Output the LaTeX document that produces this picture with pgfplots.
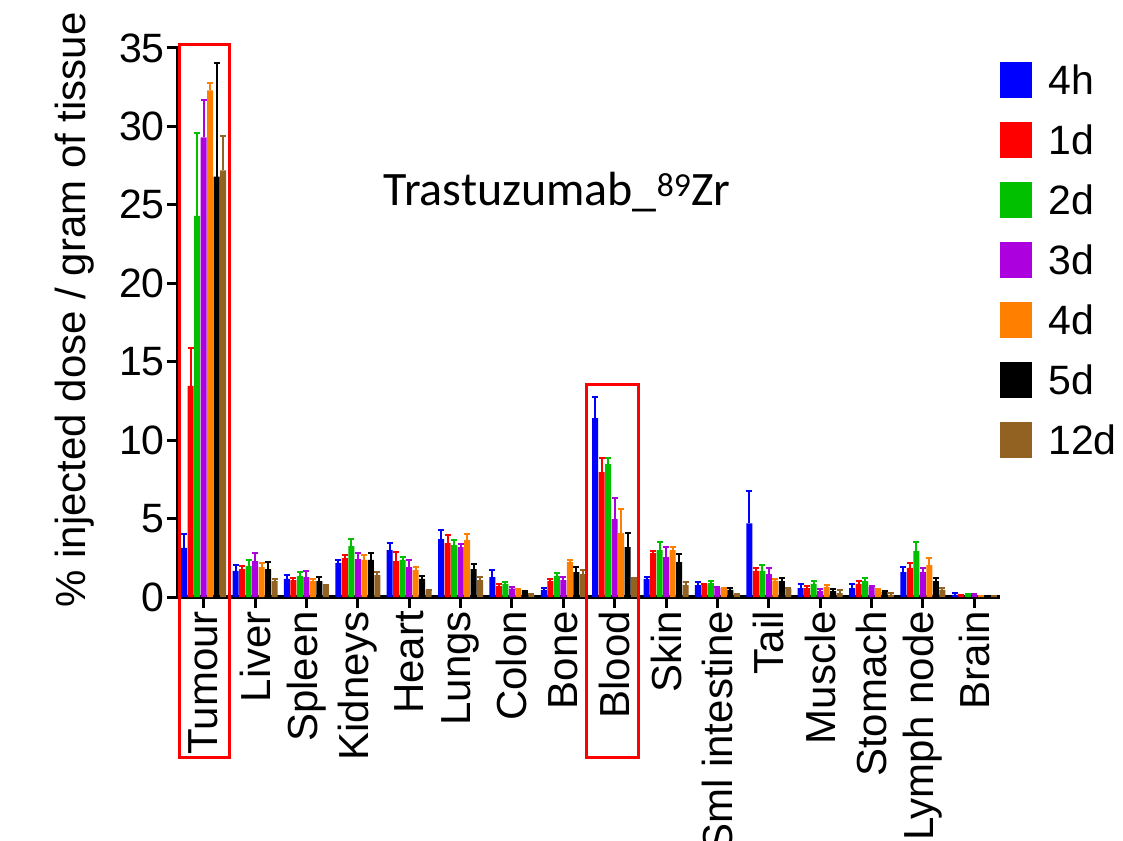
\documentclass[border=0pt]{standalone}
\usepackage{fontspec}
\setmainfont{Liberation Sans}
\newfontfamily\calibri{Carlito}
\usepackage{pgfplots}
\usepackage{pgfplotstable}
\pgfplotsset{compat=1.18}
\definecolor{cblue}{RGB}{0,0,255}
\definecolor{cred}{RGB}{255,0,0}
\definecolor{cgreen}{RGB}{0,192,0}
\definecolor{cpurple}{RGB}{172,0,222}
\definecolor{corange}{RGB}{255,128,0}
\definecolor{cblack}{RGB}{0,0,0}
\definecolor{cbrown}{RGB}{145,98,33}

% 4h
\pgfplotstableread{
x y e
0 3.13 0.87
1 1.66 0.40
2 1.15 0.27
3 2.17 0.19
4 2.99 0.45
5 3.69 0.56
6 1.27 0.43
7 0.45 0.10
8 11.40 1.36
9 1.15 0.10
10 0.76 0.20
11 4.70 2.05
12 0.57 0.28
13 0.57 0.24
14 1.59 0.30
15 0.13 0.12
}\tA
% 1d
\pgfplotstableread{
x y e
0 13.46 2.44
1 1.78 0.22
2 1.08 0.13
3 2.48 0.19
4 2.29 0.56
5 3.44 0.49
6 0.70 0.15
7 1.02 0.13
8 7.96 0.87
9 2.80 0.11
10 0.81 0.05
11 1.66 0.17
12 0.57 0.13
13 0.83 0.21
14 1.85 0.32
15 0.06 0.05
}\tB
% 2d
\pgfplotstableread{
x y e
0 24.30 5.30
1 1.97 0.39
2 1.34 0.25
3 3.25 0.44
4 2.36 0.19
5 3.31 0.32
6 0.83 0.13
7 1.34 0.19
8 8.47 0.36
9 2.99 0.49
10 0.89 0.13
11 1.66 0.36
12 0.83 0.19
13 1.02 0.19
14 2.93 0.55
15 0.13 0.05
}\tC
% 3d
\pgfplotstableread{
x y e
0 29.30 2.40
1 2.29 0.53
2 1.27 0.36
3 2.42 0.40
4 1.91 0.45
5 3.18 0.20
6 0.53 0.09
7 1.08 0.19
8 4.97 1.31
9 2.55 0.61
10 0.57 0.05
11 1.46 0.37
12 0.38 0.11
13 0.64 0.03
14 1.59 0.24
15 0.13 0.06
}\tD
% 4d
\pgfplotstableread{
x y e
0 32.30 0.50
1 1.91 0.26
2 1.02 0.13
3 2.36 0.31
4 1.72 0.19
5 3.63 0.40
6 0.47 0.02
7 2.23 0.13
8 4.08 1.50
9 2.99 0.17
10 0.53 0.06
11 1.04 0.11
12 0.64 0.12
13 0.45 0.06
14 2.04 0.42
15 0.06 0.03
}\tE
% 5d
\pgfplotstableread{
x y e
0 26.80 7.25
1 1.78 0.42
2 1.02 0.23
3 2.36 0.44
4 1.15 0.21
5 1.78 0.30
6 0.32 0.06
7 1.59 0.32
8 3.18 0.92
9 2.23 0.49
10 0.45 0.12
11 1.02 0.17
12 0.38 0.13
13 0.32 0.06
14 1.02 0.21
15 0.06 0.03
}\tF
% 12d
\pgfplotstableread{
x y e
0 27.20 2.20
1 1.02 0.13
2 0.70 0.06
3 1.40 0.19
4 0.40 0.07
5 1.08 0.19
6 0.15 0.04
7 1.46 0.26
8 1.15 0.08
9 0.76 0.17
10 0.13 0.06
11 0.53 0.04
12 0.25 0.20
13 0.13 0.12
14 0.45 0.12
15 0.03 0.02
}\tG

\pgfplotsset{
  mybar/.style={fill=#1, draw=none,
    legend image code/.code={\fill[#1] (0pt,-18pt) rectangle (32pt,18pt);},
    /pgfplots/error bars/y dir=plus,
    /pgfplots/error bars/y explicit,
    /pgfplots/error bars/error bar style={draw=#1, line width=2pt},
    /pgfplots/error bars/error mark options={draw=#1, rotate=90, mark size=3pt, line width=2pt}},
}

\begin{document}
\begin{tikzpicture}
\begin{axis}[
  at={(0pt,0pt)}, anchor=south west,
  scale only axis, width=822pt, height=549pt,
  xmin=-0.5, xmax=15.5, ymin=0, ymax=35,
  ybar=0.5pt, bar width=6pt,
  axis x line*=bottom, axis y line*=left,
  axis line style={line width=4pt, black},
  xtick={0,...,15},
  xticklabels={Tumour,Liver,Spleen,Kidneys,Heart,Lungs,Colon,Bone,Blood,Skin,Sml intestine,Tail,Muscle,Stomach,Lymph node,Brain},
  ytick={0,5,...,35},
  tick align=outside, major tick length=11pt,
  tick style={line width=3pt, black},
  xticklabel style={rotate=90, anchor=east, inner sep=3pt, font=\fontsize{42}{50}\selectfont},
  yticklabel style={inner sep=2pt, font=\fontsize{41}{49}\selectfont},
  /pgf/number format/assume math mode=true,
  clip=false,
  legend style={at={(1,0.975)}, anchor=north west, draw=none, fill=none,
    font=\fontsize{41}{49}\selectfont, row sep=24pt, inner sep=0pt,
    /tikz/every odd column/.append style={column sep=14pt}},
  legend cell align=left,
]
\addplot[mybar=cblue] table[x=x,y=y,y error=e]{\tA};
\addlegendentry{4h}
\addplot[mybar=cred] table[x=x,y=y,y error=e]{\tB};
\addlegendentry{1d}
\addplot[mybar=cgreen] table[x=x,y=y,y error=e]{\tC};
\addlegendentry{2d}
\addplot[mybar=cpurple] table[x=x,y=y,y error=e]{\tD};
\addlegendentry{3d}
\addplot[mybar=corange] table[x=x,y=y,y error=e]{\tE};
\addlegendentry{4d}
\addplot[mybar=cblack] table[x=x,y=y,y error=e]{\tF};
\addlegendentry{5d}
\addplot[mybar=cbrown] table[x=x,y=y,y error=e]{\tG};
\addlegendentry{12d}
\draw[red, line width=3pt] (axis cs:-0.48,-10.26) rectangle (axis cs:0.512,35.25);
\draw[red, line width=3pt] (axis cs:7.46,-10.26) rectangle (axis cs:8.473,13.52);
\node[font=\calibri\fontsize{48}{56}\selectfont] at (axis cs:6.88,25.8) {Trastuzumab\_\textsuperscript{89}Zr};
\node[rotate=90, font=\fontsize{42}{50}\selectfont] at (axis cs:-2.52,18.3) {\% injected dose / gram of tissue};
\end{axis}
\pgfresetboundingbox
\path[use as bounding box] (-178pt,-243pt) rectangle (945pt,597pt);
\end{tikzpicture}
\end{document}
